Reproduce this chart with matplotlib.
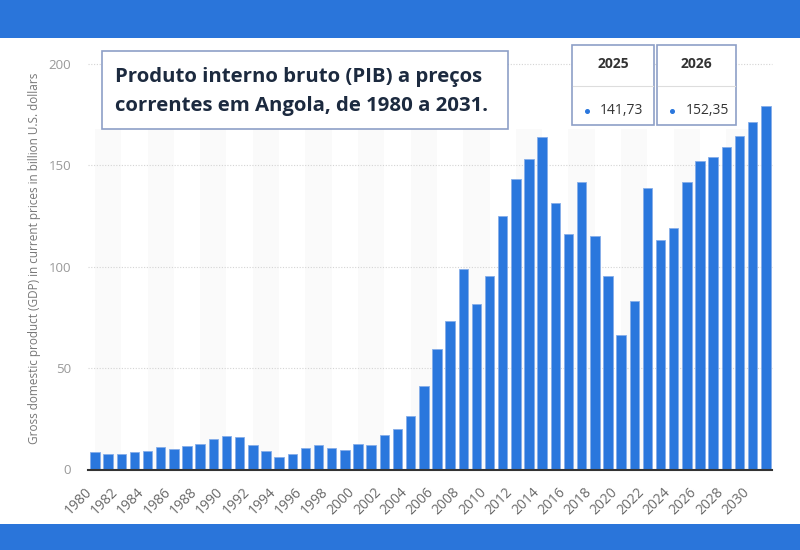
import numpy as np
import matplotlib
matplotlib.use("Agg")
import matplotlib.pyplot as plt
from matplotlib.patches import Rectangle
from matplotlib.lines import Line2D

plt.rcParams['font.family'] = ['Open Sans', 'DejaVu Sans']

years = list(range(1980, 2032))
values = [8.4, 7.7, 7.7, 8.4, 8.9, 11.0, 9.9, 11.5, 12.5, 14.8,
          16.3, 15.8, 12.0, 8.9, 6.1, 7.7, 10.5, 12.0, 10.5, 9.4,
          12.5, 12.0, 16.8, 20.1, 26.5, 41.2, 59.2, 73.4, 98.7, 81.7,
          95.4, 125.2, 143.3, 153.3, 164.2, 131.5, 116.2, 141.8, 115.2, 95.4,
          66.2, 83.3, 139.0, 113.0, 119.3, 141.73, 152.35, 154.1, 159.0, 164.3,
          171.3, 179.3]
y_ticks = [0, 50, 100, 150, 200]
title_lines = ["Produto interno bruto (PIB) a preços",
               "correntes em Angola, de 1980 a 2031."]
y_label = "Gross domestic product (GDP) in current prices in billion U.S. dollars"
info_years = ["2025", "2026"]
info_values = ["141,73", "152,35"]

W, H = 800, 550
BLUE = '#2a75da'
BAR = '#2a77dd'

fig = plt.figure(figsize=(8, 5.5), dpi=100)
fig.patch.set_facecolor('white')

def fx(px):
    return px / W

def fy(py):
    return 1 - py / H

# header / footer bands
fig.patches.append(Rectangle((0, fy(38)), 1, 38 / H, transform=fig.transFigure,
                             facecolor=BLUE, edgecolor='none', zorder=0))
fig.patches.append(Rectangle((0, 0), 1, 26 / H, transform=fig.transFigure,
                             facecolor=BLUE, edgecolor='none', zorder=0))

ax = fig.add_axes([fx(87.7), 80.5 / H, 684 / W, 405.5 / H])
x = np.arange(len(years))
ax.bar(x, values, width=0.72, color=BAR, edgecolor='#86aee9', linewidth=0.6, zorder=3)
ax.set_xlim(-0.55, len(years) - 0.55)
ax.set_ylim(0, 200)

for i in range(1, len(years) + 2, 4):
    ax.axvspan(i - 1, i + 1, ymin=0, ymax=168 / 200, color='#fafafa', lw=0, zorder=0)

for v in y_ticks[1:]:
    ax.axhline(v, color='#d4d4d4', lw=0.8, ls=(0, (1, 1.5)), zorder=1, clip_on=False)

for s in ['top', 'right', 'left']:
    ax.spines[s].set_visible(False)
ax.spines['bottom'].set_color('#333333')
ax.spines['bottom'].set_linewidth(1.5)
ax.spines['bottom'].set_zorder(4)

ax.set_yticks(y_ticks)
ax.set_yticklabels([str(v) for v in y_ticks])
ax.tick_params(axis='y', length=0, pad=12, labelsize=9.5, labelcolor='#999999')
ax.set_xticks(x[::2])
ax.set_xticklabels([str(y) for y in years[::2]], rotation=45, ha='right', va='top')
ax.tick_params(axis='x', length=0, pad=11, labelsize=10, labelcolor='#6a6a6a')

fig.text(fx(35), fy(258), y_label, rotation=90, ha='center', va='center',
         fontsize=8.5, color='#777777')

# title box
fig.patches.append(Rectangle((fx(101.7), fy(129.3)), (508.3 - 101.7) / W, (129.3 - 50.7) / H,
                             transform=fig.transFigure, facecolor='white',
                             edgecolor='#8d9fc7', linewidth=1.2, zorder=5))
fig.text(fx(115), fy(77), title_lines[0], fontsize=14.7, fontweight='bold',
         color='#1c2a3f', ha='left', va='center', zorder=6)
fig.text(fx(115), fy(105.5), title_lines[1], fontsize=14.7, fontweight='bold',
         color='#1c2a3f', ha='left', va='center', zorder=6)

# info boxes
boxes = [(571.7, 654.3), (657.3, 735.7)]
for (l, r), yr, val in zip(boxes, info_years, info_values):
    fig.patches.append(Rectangle((fx(l), fy(125)), (r - l) / W, 80 / H,
                                 transform=fig.transFigure, facecolor='white',
                                 edgecolor='#8d9fc7', linewidth=1.2, zorder=5))
    fig.lines.append(Line2D([fx(l + 1), fx(r - 1)], [fy(86), fy(86)], transform=fig.transFigure,
                            color='#dddddd', lw=0.8, zorder=6))
    fig.text(fx((l + r) / 2), fy(63.5), yr, fontsize=10, fontweight='bold',
             color='#333333', ha='center', va='center', zorder=6)
    fig.lines.append(Line2D([fx(l + 15)], [fy(111)], transform=fig.transFigure,
                            marker='o', markersize=2.6, color=BAR, lw=0, zorder=6))
    fig.text(fx(l + 28), fy(111), val, fontsize=10, color='#333333',
             ha='left', va='center', zorder=6)

fig.savefig('out.png', dpi=100)
